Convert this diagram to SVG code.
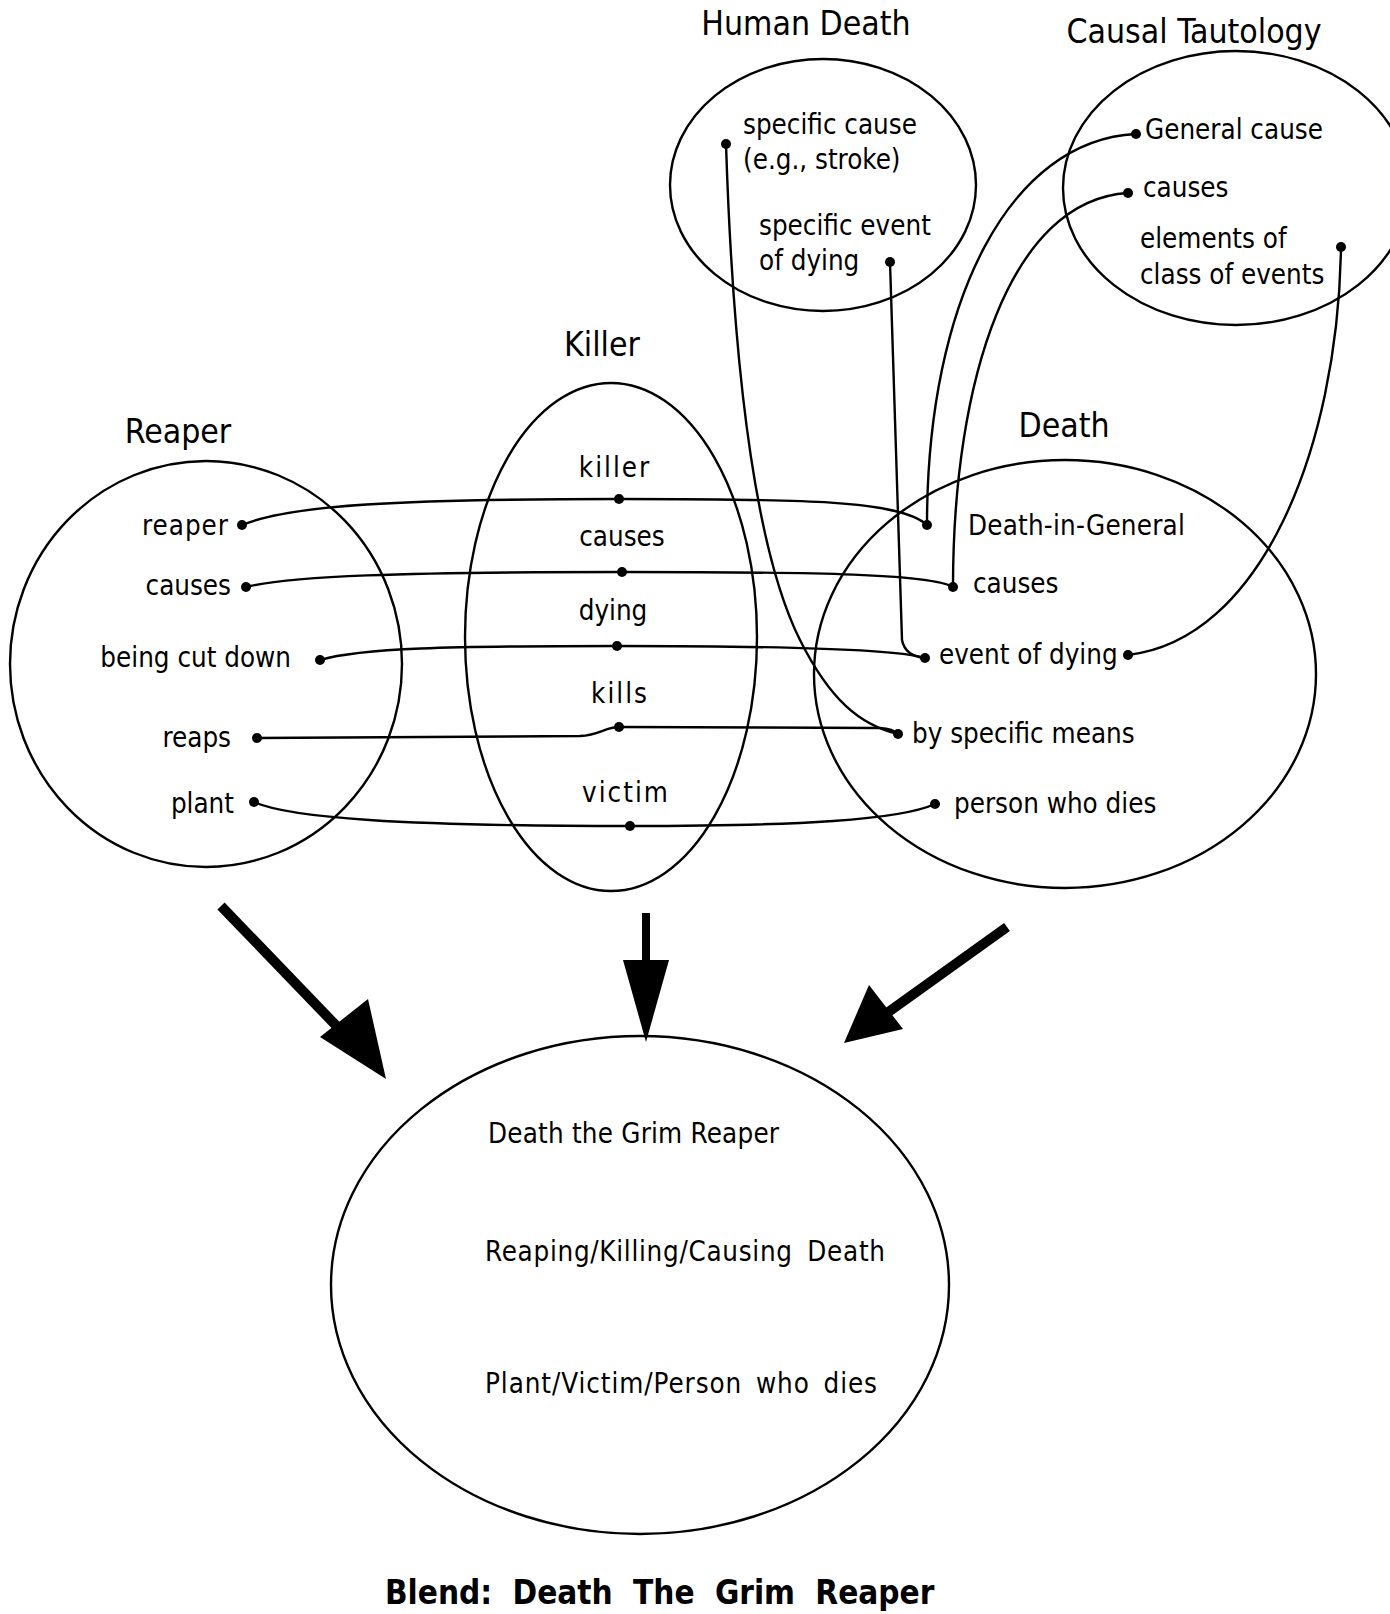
<svg xmlns="http://www.w3.org/2000/svg" width="1390" height="1614" viewBox="0 0 1390 1614">
<style>
.frame{fill:none;stroke:#000;stroke-width:2.4}
.con{fill:none;stroke:#000;stroke-width:2.4}
.dot{fill:#000}
text{font-family:"DejaVu Sans Condensed","DejaVu Sans","Liberation Sans",sans-serif;fill:#000}
.title{font-size:33.5px}
.lbl{font-size:27.5px}
.sp{letter-spacing:2px}
.blend{font-size:33px;font-weight:bold;word-spacing:10px}
</style>
<rect width="1390" height="1614" fill="#fff"/>
<g id="human-death">
<ellipse class="frame" cx="823" cy="185" rx="153" ry="126"/>
<text class="title" x="806" y="35" text-anchor="middle">Human Death</text>
<text class="lbl" x="743" y="134">specific cause</text>
<text class="lbl" x="743" y="169">(e.g., stroke)</text>
<text class="lbl" x="759" y="235">specific event</text>
<text class="lbl" x="759" y="270">of dying</text>
<circle class="dot" cx="726" cy="144" r="5"/>
<circle class="dot" cx="890" cy="262" r="5"/>
</g>
<g id="causal-tautology">
<ellipse class="frame" cx="1236" cy="188" rx="173" ry="137"/>
<text class="title" x="1194" y="43" text-anchor="middle">Causal Tautology</text>
<text class="lbl" x="1145" y="139">General cause</text>
<text class="lbl" x="1143" y="197">causes</text>
<text class="lbl" x="1140" y="248">elements of</text>
<text class="lbl" x="1140" y="284">class of events</text>
<circle class="dot" cx="1136" cy="134" r="5"/>
<circle class="dot" cx="1128" cy="193" r="5"/>
<circle class="dot" cx="1341" cy="247" r="5"/>
</g>
<g id="killer">
<ellipse class="frame" cx="611" cy="637" rx="146" ry="254"/>
<text class="title" x="602" y="356" text-anchor="middle">Killer</text>
<text class="lbl sp" x="615" y="477" text-anchor="middle">killer</text>
<text class="lbl" x="622" y="546" text-anchor="middle">causes</text>
<text class="lbl" x="613" y="620" text-anchor="middle">dying</text>
<text class="lbl sp" x="620" y="703" text-anchor="middle">kills</text>
<text class="lbl sp" x="626" y="802" text-anchor="middle">victim</text>
<circle class="dot" cx="619" cy="499" r="5"/>
<circle class="dot" cx="622" cy="572" r="5"/>
<circle class="dot" cx="617" cy="646" r="5"/>
<circle class="dot" cx="619" cy="727" r="5"/>
<circle class="dot" cx="630" cy="826" r="5"/>
</g>
<g id="reaper">
<ellipse class="frame" cx="206" cy="664" rx="196" ry="203"/>
<text class="title" x="178" y="443" text-anchor="middle">Reaper</text>
<text class="lbl" x="229" y="535" text-anchor="end" letter-spacing="1">reaper</text>
<text class="lbl" x="231" y="595" text-anchor="end">causes</text>
<text class="lbl" x="291" y="667" text-anchor="end">being cut down</text>
<text class="lbl" x="231" y="747" text-anchor="end">reaps</text>
<text class="lbl" x="234" y="813" text-anchor="end">plant</text>
<circle class="dot" cx="242" cy="525" r="5"/>
<circle class="dot" cx="246" cy="587" r="5"/>
<circle class="dot" cx="320" cy="660" r="5"/>
<circle class="dot" cx="257" cy="738" r="5"/>
<circle class="dot" cx="254" cy="802" r="5"/>
</g>
<g id="death">
<ellipse class="frame" cx="1065" cy="674" rx="251" ry="214"/>
<text class="title" x="1064" y="437" text-anchor="middle">Death</text>
<text class="lbl" x="968" y="535" letter-spacing="0.2">Death-in-General</text>
<text class="lbl" x="973" y="593">causes</text>
<text class="lbl" x="939" y="664">event of dying</text>
<text class="lbl" x="912" y="743">by specific means</text>
<text class="lbl" x="954" y="813">person who dies</text>
<circle class="dot" cx="927" cy="525" r="5"/>
<circle class="dot" cx="953" cy="587" r="5"/>
<circle class="dot" cx="925" cy="658" r="5"/>
<circle class="dot" cx="1128" cy="655" r="5"/>
<circle class="dot" cx="898" cy="734" r="5"/>
<circle class="dot" cx="935" cy="804" r="5"/>
</g>
<g id="blend">
<ellipse class="frame" cx="640" cy="1285" rx="309" ry="249"/>
<text class="lbl" x="488" y="1143" font-size="28" textLength="291" lengthAdjust="spacing">Death the Grim Reaper</text>
<text class="lbl" x="485" y="1261" font-size="28" word-spacing="6" textLength="400" lengthAdjust="spacing">Reaping/Killing/Causing Death</text>
<text class="lbl" x="485" y="1393" font-size="28" word-spacing="5" textLength="392" lengthAdjust="spacing">Plant/Victim/Person who dies</text>
<text class="blend" x="385" y="1604">Blend: Death The Grim Reaper</text>
</g>
<g id="connectors">
<path class="con" d="M242,525 C290,505 400,499 619,499 C800,499 900,500 927,525"/>
<path class="con" d="M246,587 C290,576 400,572 622,572 C820,572 930,574 953,587"/>
<path class="con" d="M320,660 C360,648 450,646 617,646 C800,646 900,650 925,658"/>
<path class="con" d="M257,738 L580,736 C600,735 605,727 619,727 L880,728 Q893,729 898,734"/>
<path class="con" d="M254,802 C290,818 400,826 630,826 C800,826 900,820 935,804"/>
<path class="con" d="M726,144 C732,330 750,540 800,640 C830,700 860,725 898,734"/>
<path class="con" d="M890,262 L902,640 Q905,656 925,658"/>
<path class="con" d="M1136,134 C1010,140 927,300 927,525"/>
<path class="con" d="M1128,193 C1010,200 953,380 953,587"/>
<path class="con" d="M1341,247 C1338,450 1260,640 1128,655"/>
<line x1="221" y1="906" x2="350" y2="1040" stroke="#000" stroke-width="10"/>
<polygon points="386,1079 320,1037 368,999"/>
<line x1="646" y1="913" x2="646" y2="965" stroke="#000" stroke-width="8"/>
<polygon points="646,1042 623,960 669,960"/>
<line x1="1007" y1="927" x2="880" y2="1018" stroke="#000" stroke-width="10"/>
<polygon points="844,1043 869,985 903,1029"/>
</g>
</svg>
